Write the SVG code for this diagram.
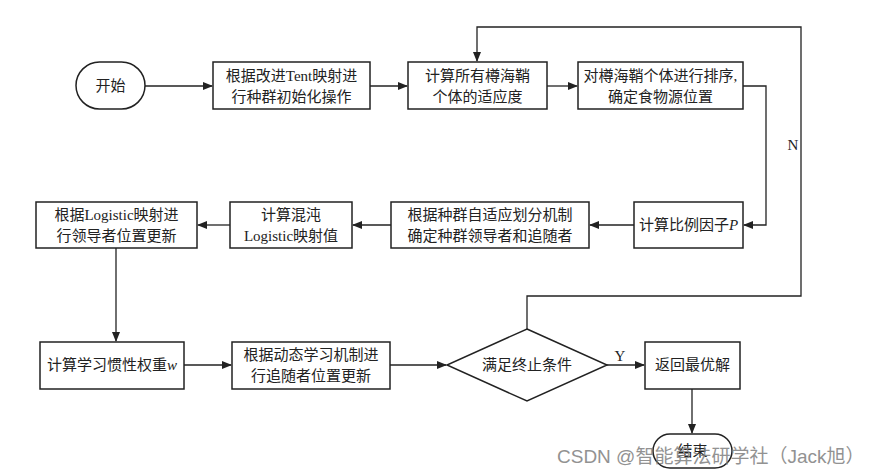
<svg xmlns="http://www.w3.org/2000/svg" width="871" height="476" viewBox="0 0 871 476">
<style>
.n{fill:#fff;stroke:#222;stroke-width:1.5}
.t{font-family:"Liberation Serif","Noto Sans CJK SC",serif;font-size:15px;fill:#222;text-anchor:middle}
.c{fill:none;stroke:#222;stroke-width:1.3}
.wm{font-family:"Liberation Sans","Noto Sans CJK SC",sans-serif;font-size:19px;fill:#808080;opacity:0.85}
</style>
<defs>
<marker id="a" markerWidth="10" markerHeight="8" refX="9" refY="4" orient="auto" markerUnits="userSpaceOnUse">
<path d="M0,0 L10,4 L0,8 Z" fill="#222"/>
</marker>
</defs>
<rect width="871" height="476" fill="#fff"/>
<g id="connectors">
<line class="c" x1="145" y1="86" x2="212" y2="86" marker-end="url(#a)"/>
<line class="c" x1="370" y1="86" x2="407" y2="86" marker-end="url(#a)"/>
<line class="c" x1="547" y1="86" x2="577" y2="86" marker-end="url(#a)"/>
<polyline class="c" points="743,86 766,86 766,225 744,225" marker-end="url(#a)"/>
<line class="c" x1="634" y1="225" x2="590" y2="225" marker-end="url(#a)"/>
<line class="c" x1="391" y1="225" x2="353" y2="225" marker-end="url(#a)"/>
<line class="c" x1="230" y1="225" x2="198" y2="225" marker-end="url(#a)"/>
<polyline class="c" points="116,248 116,341" marker-end="url(#a)"/>
<line class="c" x1="184" y1="365" x2="231" y2="365" marker-end="url(#a)"/>
<line class="c" x1="390" y1="365" x2="446" y2="365" marker-end="url(#a)"/>
<line class="c" x1="607" y1="365" x2="644" y2="365" marker-end="url(#a)"/>
<polyline class="c" points="527,329 527,296 801,296 801,27 477,27 477,61" marker-end="url(#a)"/>
<line class="c" x1="692" y1="389" x2="692" y2="433" marker-end="url(#a)"/>
<text class="t" x="793" y="150">N</text>
<text class="t" x="620" y="361">Y</text>
</g>
<g id="start">
<rect class="n" x="76" y="62" width="69" height="47" rx="23.5"/>
<text class="t" x="110.5" y="91">开始</text>
</g>
<g id="init">
<rect class="n" x="213" y="62" width="157" height="47"/>
<text class="t" x="291.5" y="81">根据改进Tent映射进</text>
<text class="t" x="291.5" y="102">行种群初始化操作</text>
</g>
<g id="fitness">
<rect class="n" x="408" y="62" width="139" height="47"/>
<text class="t" x="477.5" y="81">计算所有樽海鞘</text>
<text class="t" x="477.5" y="102">个体的适应度</text>
</g>
<g id="sort">
<rect class="n" x="578" y="62" width="165" height="47"/>
<text class="t" x="660.5" y="81">对樽海鞘个体进行排序,</text>
<text class="t" x="660.5" y="102">确定食物源位置</text>
</g>
<g id="ratio">
<rect class="n" x="634" y="202" width="109" height="46"/>
<text class="t" x="688.5" y="230">计算比例因子<tspan font-style="italic">P</tspan></text>
</g>
<g id="divide">
<rect class="n" x="391" y="202" width="198" height="46"/>
<text class="t" x="490" y="220">根据种群自适应划分机制</text>
<text class="t" x="490" y="241">确定种群领导者和追随者</text>
</g>
<g id="chaos">
<rect class="n" x="230" y="202" width="122" height="46"/>
<text class="t" x="291" y="220">计算混沌</text>
<text class="t" x="291" y="241">Logistic映射值</text>
</g>
<g id="leader">
<rect class="n" x="36" y="202" width="161" height="46"/>
<text class="t" x="116.5" y="220">根据Logistic映射进</text>
<text class="t" x="116.5" y="241">行领导者位置更新</text>
</g>
<g id="inertia">
<rect class="n" x="40" y="342" width="144" height="47"/>
<text class="t" x="112" y="370">计算学习惯性权重<tspan font-style="italic">w</tspan></text>
</g>
<g id="follower">
<rect class="n" x="232" y="342" width="158" height="47"/>
<text class="t" x="311" y="360">根据动态学习机制进</text>
<text class="t" x="311" y="381">行追随者位置更新</text>
</g>
<g id="decision">
<polygon class="n" points="527,329 607,365 527,401 447,365"/>
<text class="t" x="527" y="370">满足终止条件</text>
</g>
<g id="best">
<rect class="n" x="645" y="342" width="95" height="47"/>
<text class="t" x="692.5" y="370">返回最优解</text>
</g>
<g id="end">
<rect class="n" x="653" y="434" width="79" height="34" rx="17"/>
<text class="t" x="692.5" y="456">结束</text>
</g>
<text class="wm" x="557" y="463">CSDN @智能算法研学社（Jack旭）</text>
</svg>
